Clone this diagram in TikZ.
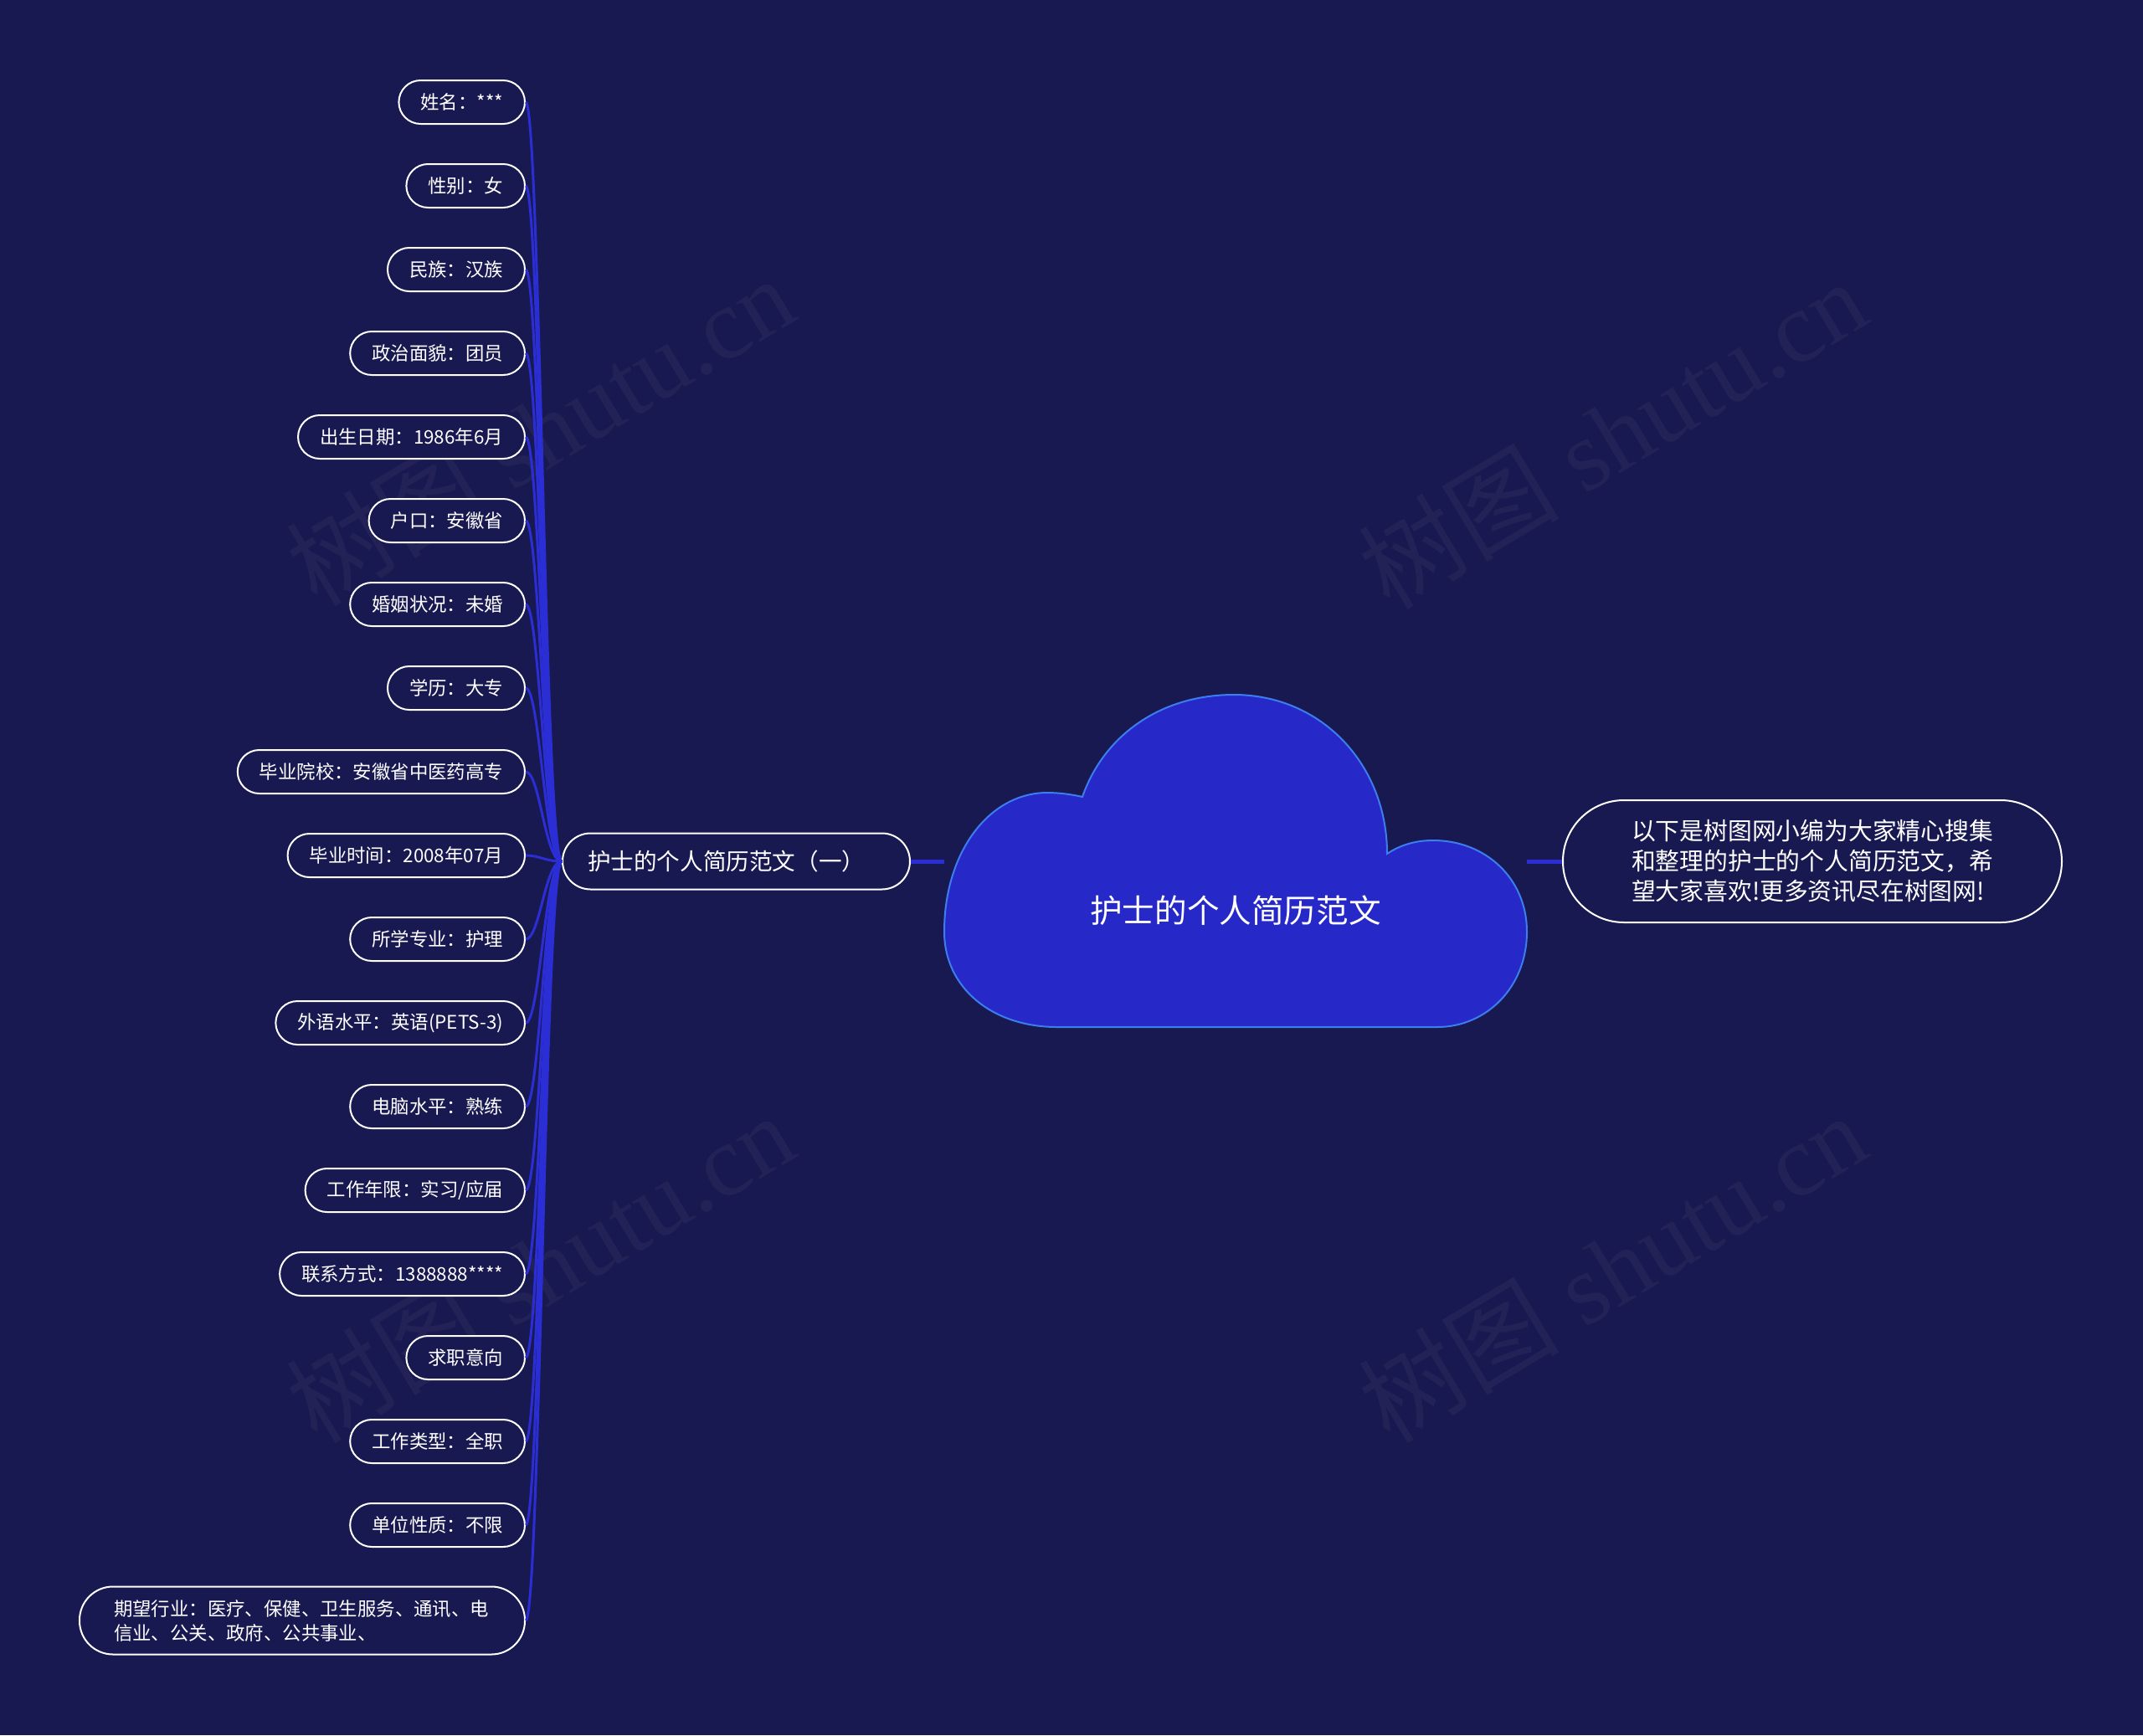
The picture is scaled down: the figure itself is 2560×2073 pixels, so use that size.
\documentclass[tikz,border=0pt]{standalone}
\usepackage{fontspec}
\newfontfamily\cjk{Noto Sans CJK SC}
\newfontfamily\wmserif{Liberation Serif}
\usepackage{tikz}
\usetikzlibrary{positioning}
\usepackage{xcolor}

\definecolor{bgnavy}{RGB}{25,25,82}
\definecolor{cloudblue}{RGB}{38,40,200}
\definecolor{cloudedge}{RGB}{60,125,240}
\definecolor{linkblue}{RGB}{42,46,212}
\definecolor{wmgray}{RGB}{34,34,86}

\begin{document}
\begin{tikzpicture}[x=0.5pt, y=-0.5pt,
    leaf/.style={draw=white, line width=1pt, fill=bgnavy, rounded corners=13pt,
        minimum height=26pt, inner xsep=13pt, inner ysep=0pt, text=white,
        font=\cjk\fontsize{11.2}{14.5}\selectfont, anchor=east},
    branch/.style={draw=white, line width=1pt, fill=bgnavy, rounded corners=16.75pt,
        minimum height=33.5pt, inner xsep=15pt, inner ysep=0pt, text=white,
        font=\cjk\fontsize{13.8}{16}\selectfont},
    intro/.style={draw=white, line width=1pt, fill=bgnavy, rounded corners=36.5pt,
        minimum height=73pt, minimum width=298pt, text width=216pt, align=left,
        inner ysep=0pt, text=white, font=\cjk\fontsize{14.4}{18}\selectfont},
    leafline/.style={draw=linkblue, line width=1.5pt},
    stem/.style={draw=linkblue, line width=2.5pt},
    wmark/.style={text=wmgray, font=\wmserif\fontsize{60}{60}\selectfont, rotate=31}]

    % Background and page size
    \useasboundingbox[fill=bgnavy] (0,0) rectangle (2560,2073);

    % Watermarks
    \node[wmark] (wm1) at (645,514) {{\cjk 树图} shutu.cn};
    \node[wmark] (wm2) at (1926,518) {{\cjk 树图} shutu.cn};
    \node[wmark] (wm3) at (645,1514) {{\cjk 树图} shutu.cn};
    \node[wmark] (wm4) at (1926,1514) {{\cjk 树图} shutu.cn};

    % Hooks on the cloud
    \coordinate (cloudL) at (1128,1029);
    \coordinate (cloudR) at (1824,1029);

    % Branch and the right note
    \node[branch, anchor=west, text width=177.5pt, align=left] (branch) at (671,1029) {护士的个人简历范文（一）};
    \node[intro] (intro) at (2165,1029) {以下是树图网小编为大家精心搜集\\和整理的护士的个人简历范文，希\\望大家喜欢!更多资讯尽在树图网!};

    % Leaves
    \node[leaf] (name) at (628,122) {姓名：***};
    \node[leaf] (sex) at (628,222) {性别：女};
    \node[leaf] (nation) at (628,322) {民族：汉族};
    \node[leaf] (party) at (628,422) {政治面貌：团员};
    \node[leaf] (birth) at (628,522) {出生日期：1986年6月};
    \node[leaf] (hukou) at (628,622) {户口：安徽省};
    \node[leaf] (marital) at (628,722) {婚姻状况：未婚};
    \node[leaf] (edu) at (628,822) {学历：大专};
    \node[leaf] (school) at (628,922) {毕业院校：安徽省中医药高专};
    \node[leaf] (grad) at (628,1022) {毕业时间：2008年07月};
    \node[leaf] (major) at (628,1122) {所学专业：护理};
    \node[leaf] (lang) at (628,1222) {外语水平：英语(PETS-3)};
    \node[leaf] (pc) at (628,1322) {电脑水平：熟练};
    \node[leaf] (years) at (628,1422) {工作年限：实习/应届};
    \node[leaf] (phone) at (628,1522) {联系方式：1388888****};
    \node[leaf] (intent) at (628,1622) {求职意向};
    \node[leaf] (jobtype) at (628,1722) {工作类型：全职};
    \node[leaf] (unit) at (628,1822) {单位性质：不限};
    \node[leaf, rounded corners=20pt, minimum height=40.5pt, minimum width=266pt,
        text width=225pt, align=left] (industry) at (628,1936)
        {期望行业：医疗、保健、卫生服务、通讯、电\\信业、公关、政府、公共事业、};

    % Leaf connectors
    \draw[leafline] (name.east) .. controls +(17,0) and +(-20,0) .. (branch.west);
    \draw[leafline] (sex.east) .. controls +(17,0) and +(-20,0) .. (branch.west);
    \draw[leafline] (nation.east) .. controls +(17,0) and +(-20,0) .. (branch.west);
    \draw[leafline] (party.east) .. controls +(17,0) and +(-20,0) .. (branch.west);
    \draw[leafline] (birth.east) .. controls +(17,0) and +(-20,0) .. (branch.west);
    \draw[leafline] (hukou.east) .. controls +(17,0) and +(-20,0) .. (branch.west);
    \draw[leafline] (marital.east) .. controls +(17,0) and +(-20,0) .. (branch.west);
    \draw[leafline] (edu.east) .. controls +(17,0) and +(-20,0) .. (branch.west);
    \draw[leafline] (school.east) .. controls +(17,0) and +(-20,0) .. (branch.west);
    \draw[leafline] (grad.east) .. controls +(17,0) and +(-20,0) .. (branch.west);
    \draw[leafline] (major.east) .. controls +(17,0) and +(-20,0) .. (branch.west);
    \draw[leafline] (lang.east) .. controls +(17,0) and +(-20,0) .. (branch.west);
    \draw[leafline] (pc.east) .. controls +(17,0) and +(-20,0) .. (branch.west);
    \draw[leafline] (years.east) .. controls +(17,0) and +(-20,0) .. (branch.west);
    \draw[leafline] (phone.east) .. controls +(17,0) and +(-20,0) .. (branch.west);
    \draw[leafline] (intent.east) .. controls +(17,0) and +(-20,0) .. (branch.west);
    \draw[leafline] (jobtype.east) .. controls +(17,0) and +(-20,0) .. (branch.west);
    \draw[leafline] (unit.east) .. controls +(17,0) and +(-20,0) .. (branch.west);
    \draw[leafline] (industry.east) .. controls +(17,0) and +(-20,0) .. (branch.west);

    % Stems to the cloud
    \draw[stem] (branch.east) -- (cloudL);
    \draw[stem] (cloudR) -- (intro.west);

    % The cloud
    \draw[fill=cloudblue, draw=cloudedge, line width=1pt] (1263,1227)
        .. controls (1185,1227) and (1128,1180) .. (1128,1113)
        .. controls (1128,1020) and (1180,948) .. (1250,947)
        .. controls (1265,947) and (1280,949) .. (1293,952)
        .. controls (1318,880) and (1385,830) .. (1474,830)
        .. controls (1580,830) and (1657,915) .. (1657,1020)
        .. controls (1672,1010) and (1690,1004) .. (1712,1004)
        .. controls (1775,1004) and (1824,1050) .. (1824,1113)
        .. controls (1824,1180) and (1775,1227) .. (1717,1227)
        -- cycle;
    \node[text=white, font=\cjk\fontsize{19.3}{22}\selectfont] (root) at (1476,1088) {护士的个人简历范文};
\end{tikzpicture}
\end{document}
